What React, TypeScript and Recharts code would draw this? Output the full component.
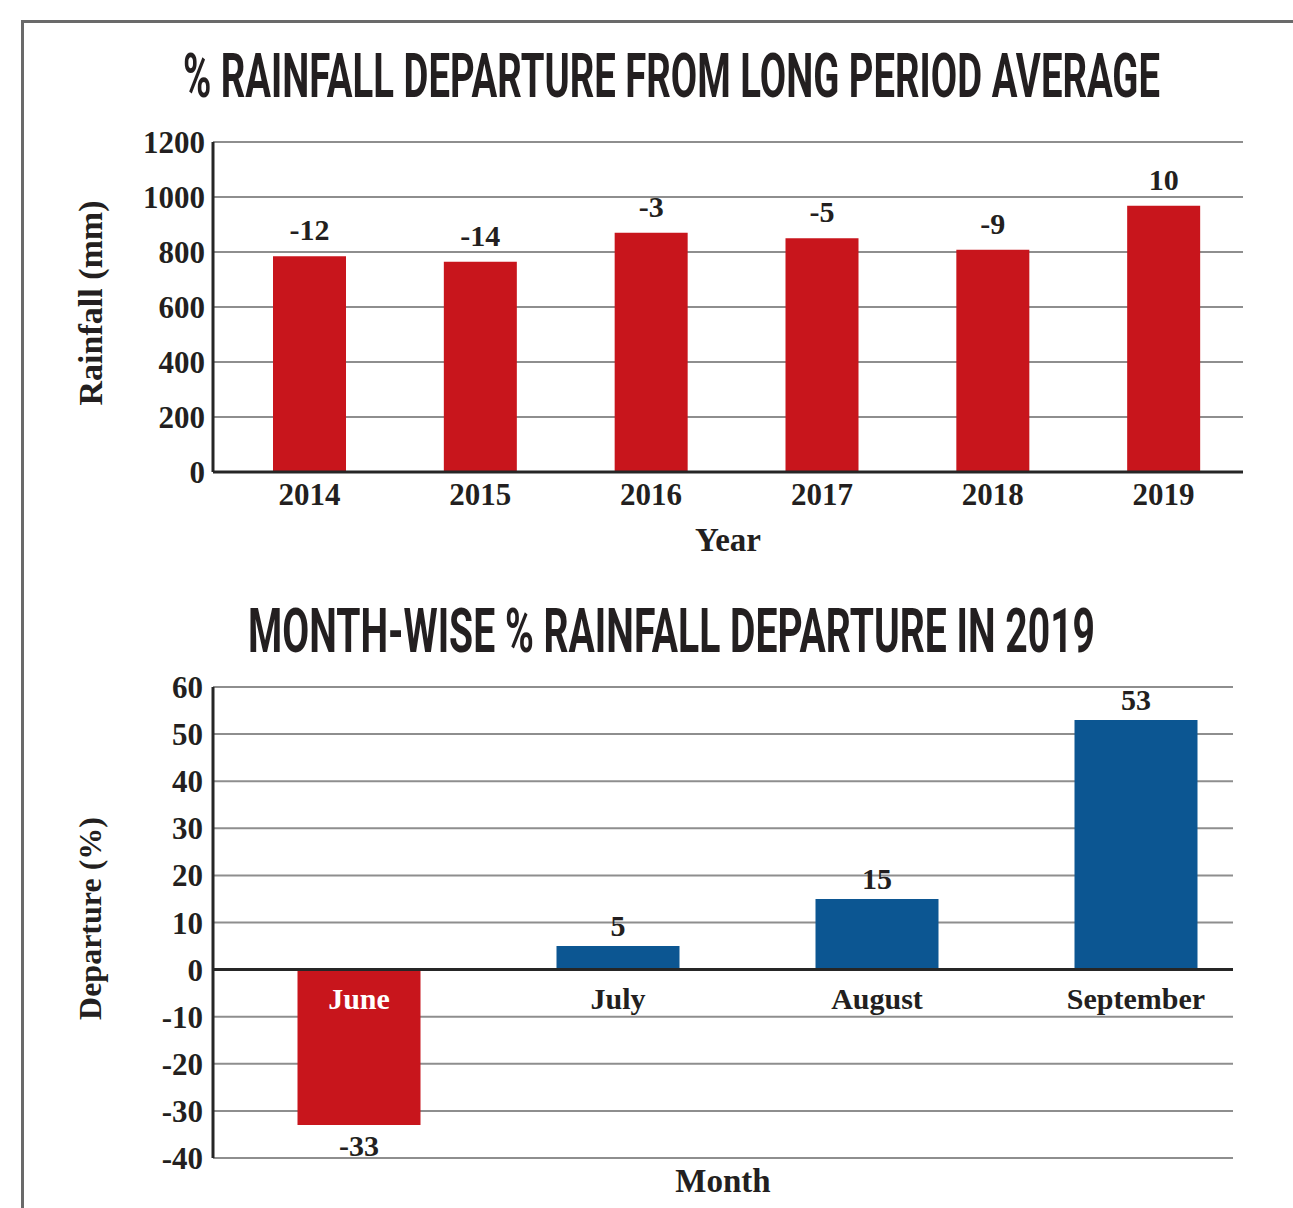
import React from "react";
import { BarChart, Bar, XAxis, YAxis, CartesianGrid, LabelList, Cell, ReferenceLine } from "recharts";

// yearly monsoon rainfall (mm) and % departure from LPA
const years = ["2014", "2015", "2016", "2017", "2018", "2019"];
const rainfall = [785, 765, 870, 850, 808, 968];
const departure = [-12, -14, -3, -5, -9, 10];
const rainTicks = [0, 200, 400, 600, 800, 1000, 1200];

// month-wise departure in 2019
const months = ["June", "July", "August", "September"];
const monthDeparture = [-33, 5, 15, 53];
const depTicks = [-40, -30, -20, -10, 0, 10, 20, 30, 40, 50, 60];

const INK = "#231f20";
const RED = "#c8151c";
const BLUE = "#0c5692";
const GRID = "#8e8e8e";
const AXIS = "#262626";
const SERIF = "'Liberation Serif', 'Times New Roman', serif";
const SANS = "Roboto, 'Liberation Sans', sans-serif";

const yearData = years.map((year, i) => ({ year, rainfall: rainfall[i], departure: departure[i] }));
const monthData = months.map((month, i) => ({ month, value: monthDeparture[i] }));

const tickStyle = { fill: INK, fontSize: 31, fontFamily: SERIF, fontWeight: 700 };

const textProps = {
  fill: INK,
  fontFamily: SERIF,
  fontWeight: 700,
  textAnchor: "middle" as const,
};

function ValueLabel(props: any) {
  const { x, y, width, height, value } = props;
  const top = Math.min(y, y + height);
  const bottom = Math.max(y, y + height);
  const cx = x + width / 2;
  if (value < 0) {
    return (
      <text {...textProps} x={cx} y={bottom + 31} fontSize={30}>
        {value}
      </text>
    );
  }
  return (
    <text {...textProps} x={cx} y={top - 10} fontSize={30}>
      {value}
    </text>
  );
}

function MonthLabel(props: any) {
  const { x, y, width, height, value } = props;
  const v = monthDeparture[months.indexOf(value)];
  const zero = v >= 0 ? Math.max(y, y + height) : Math.min(y, y + height);
  return (
    <text {...textProps} x={x + width / 2} y={zero + 39} fontSize={30} fill={v < 0 ? "#ffffff" : INK}>
      {value}
    </text>
  );
}

function YTitle(text: string, size: number) {
  return ({ viewBox }: any) => {
    const cy = viewBox.y + viewBox.height / 2 - 4;
    return (
      <text {...textProps} x={90} y={cy} fontSize={size} transform={`rotate(-90 90 ${cy})`} dominantBaseline="central">
        {text}
      </text>
    );
  };
}

function XTitle(text: string, dy: number) {
  return ({ viewBox }: any) => (
    <text {...textProps} x={viewBox.x + viewBox.width / 2} y={viewBox.y + dy} fontSize={33}>
      {text}
    </text>
  );
}

// condensed headline: narrow font size stretched upward, fitted to width
function Headline({ x, y, width, text }: { x: number; y: number; width: number; text: string }) {
  return (
    <text
      transform={`translate(${x} ${y}) scale(1 1.65)`}
      x={0}
      y={0}
      textLength={width}
      lengthAdjust="spacingAndGlyphs"
      fontFamily={SANS}
      fontWeight={700}
      fontSize={37}
      fill={INK}
    >
      {text}
    </text>
  );
}

export default function App() {
  return (
    <div style={{ position: "absolute", left: 0, top: 0, width: 1293, height: 1208, background: "#fff", overflow: "hidden" }}>
      {/* frame */}
      <div style={{ position: "absolute", left: 21, top: 20, width: 1272, height: 3, background: "#6a6a6a" }} />
      <div style={{ position: "absolute", left: 21, top: 20, width: 3, height: 1188, background: "#6a6a6a" }} />

      <svg width={1293} height={1208} style={{ position: "absolute", left: 0, top: 0 }}>
        <Headline x={183} y={97} width={977} text="% RAINFALL DEPARTURE FROM LONG PERIOD AVERAGE" />
        <Headline x={248} y={652} width={847} text="MONTH-WISE % RAINFALL DEPARTURE IN 2019" />
      </svg>

      <div style={{ position: "absolute", left: 0, top: 100 }}>
        <BarChart width={1293} height={480} data={yearData} margin={{ top: 42, right: 50, bottom: 28, left: 93 }}>
          <CartesianGrid horizontal vertical={false} stroke={GRID} strokeWidth={2} />
          <YAxis
            width={120}
            domain={[0, 1200]}
            ticks={rainTicks}
            interval={0}
            axisLine={{ stroke: AXIS, strokeWidth: 3 }}
            tickLine={false}
            tickSize={0}
            tickMargin={8}
            tick={tickStyle}
            label={{ content: YTitle("Rainfall (mm)", 34) }}
          />
          <XAxis
            dataKey="year"
            height={80}
            padding={{ left: 11, right: -6 }}
            axisLine={{ stroke: AXIS, strokeWidth: 3 }}
            tickLine={false}
            tickSize={0}
            tickMargin={11}
            tick={tickStyle}
            label={{ content: XTitle("Year", 79) }}
          />
          <Bar dataKey="rainfall" fill={RED} barSize={73} isAnimationActive={false}>
            <LabelList dataKey="departure" position="top" offset={16} fill={INK} fontSize={30} fontFamily={SERIF} fontWeight={700} />
          </Bar>
        </BarChart>
      </div>

      <div style={{ position: "absolute", left: 0, top: 600 }}>
        <BarChart width={1293} height={608} data={monthData} margin={{ top: 87, right: 60, bottom: 10, left: 93 }}>
          <CartesianGrid horizontal vertical={false} stroke={GRID} strokeWidth={2} />
          <YAxis
            width={120}
            domain={[-40, 60]}
            ticks={depTicks}
            interval={0}
            axisLine={{ stroke: AXIS, strokeWidth: 3 }}
            tickLine={false}
            tickSize={0}
            tickMargin={10}
            tick={tickStyle}
            label={{ content: YTitle("Departure (%)", 32) }}
          />
          <XAxis
            dataKey="month"
            height={40}
            padding={{ left: 16.5, right: -32.5 }}
            axisLine={false}
            tickLine={false}
            tick={false}
            label={{ content: XTitle("Month", 34) }}
          />
          <Bar dataKey="value" barSize={123} isAnimationActive={false}>
            {monthData.map((d) => (
              <Cell key={d.month} fill={d.value < 0 ? RED : BLUE} />
            ))}
            <LabelList dataKey="value" content={ValueLabel} />
            <LabelList dataKey="month" content={MonthLabel} />
          </Bar>
          <ReferenceLine y={0} stroke={AXIS} strokeWidth={3} />
        </BarChart>
      </div>
    </div>
  );
}
